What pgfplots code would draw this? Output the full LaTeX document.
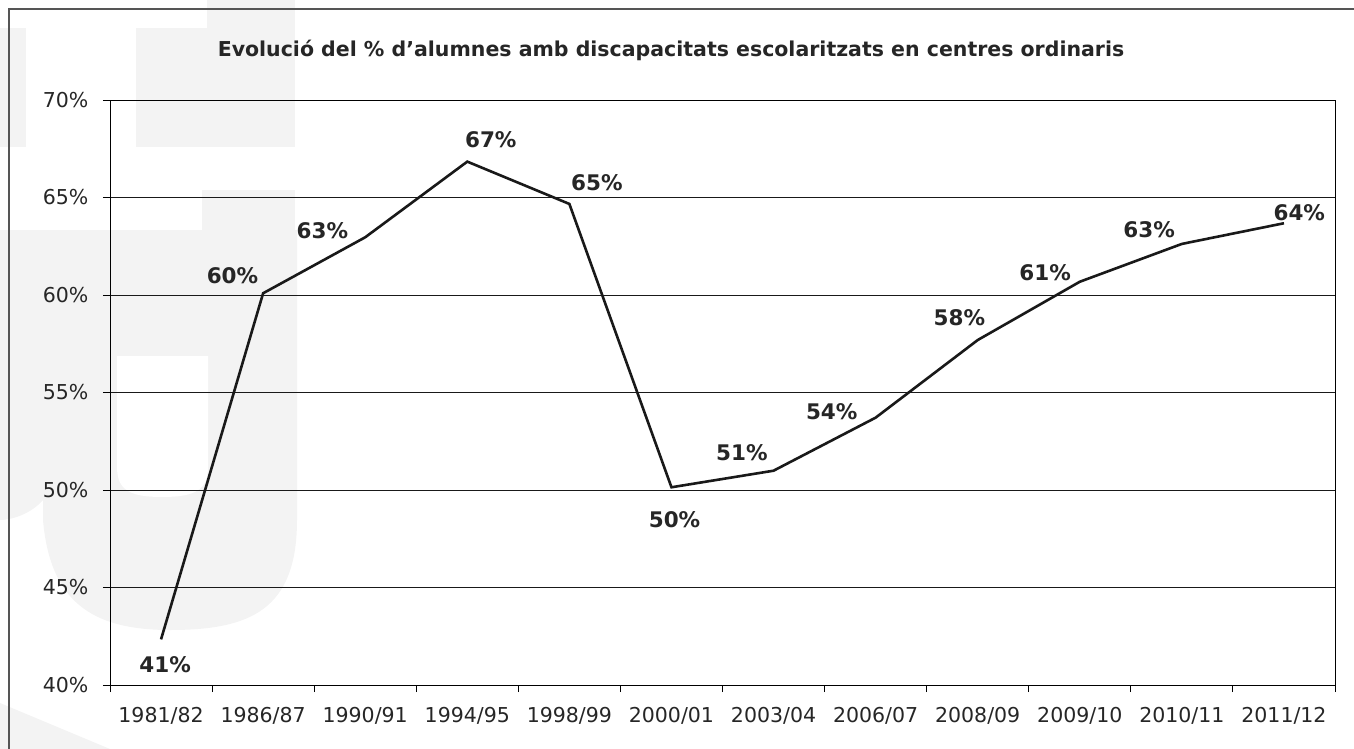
\documentclass[border=0pt]{standalone}
\usepackage{pgfplots}
\pgfplotsset{compat=1.18}
\usepackage{fontspec}
\setmainfont{DejaVu Sans}
\definecolor{wm}{HTML}{F3F3F3}
\definecolor{frm}{HTML}{555555}
\begin{document}
\begin{tikzpicture}
\path[use as bounding box] (0pt,0pt) rectangle (1354pt,-749pt);
\begin{scope}[x=1pt,y=-1pt]
  % faint watermark
  \fill[wm] (0,28) rectangle (26,147);
  \fill[wm] (136,28) rectangle (295,147);
  \fill[wm] (207,0) rectangle (295,28);
  \fill[wm] (202,190) rectangle (295,231);
  \fill[wm] (0,230) -- (297,230) -- (297,520) .. controls (297,610) and (250,630) .. (170,630)
        .. controls (90,630) and (50,600) .. (43,520) -- (43,500) .. controls (30,515) and (10,520) .. (0,520) -- cycle;
  \fill[white] (117,356) -- (208,356) -- (208,467) .. controls (208,490) and (195,497) .. (162,497)
        .. controls (130,497) and (117,490) .. (117,467) -- cycle;
  \fill[wm] (0,703) -- (110,749) -- (0,749) -- cycle;
  % outer frame
  \draw[frm, line width=1.2pt] (9,749) -- (9,9) -- (1354,9);
  % title
  \node[font=\fontsize{20.5}{24}\selectfont\bfseries, text=black!85] at (671,50)
    {Evolució del \% d’alumnes amb discapacitats escolaritzats en centres ordinaris};
\end{scope}
\begin{axis}[
  at={(110pt,-685pt)}, anchor=south west,
  scale only axis, width=1225pt, height=585pt,
  xmin=-0.5, xmax=11.5, ymin=40, ymax=70,
  clip=false,
  axis line style={black, line width=1pt},
  x tick label as interval,
  xtick={-0.5,0.5,...,11.5},
  xticklabels={1981/82,1986/87,1990/91,1994/95,1998/99,2000/01,2003/04,2006/07,2008/09,2009/10,2010/11,2011/12},
  ytick={40,45,50,55,60,65,70},
  yticklabels={40\%,45\%,50\%,55\%,60\%,65\%,70\%},
  tick align=outside, xtick pos=bottom, ytick pos=left,
  major tick length=7pt,
  tick style={black, line width=1pt},
  ymajorgrids, grid style={black!90, line width=1pt},
  /pgf/number format/assume math mode=true,
  ticklabel style={font=\fontsize{20.5}{24}\selectfont, text=black!85},
  xticklabel style={yshift=-12pt},
  yticklabel style={xshift=-11pt},
]
\addplot[black!90, line width=2.6pt, mark=none] coordinates {
 (0,42.34) (1,60.09) (2,62.96) (3,66.84) (4,64.67) (5,50.14)
 (6,50.99) (7,53.71) (8,57.69) (9,60.68) (10,62.62) (11,63.68)};
\begin{scope}[every node/.style={font=\fontsize{21.5}{24}\selectfont\bfseries, text=black!85}]
\node at (axis cs:0.04,41.03) {41\%};
\node at (axis cs:0.70,60.97) {60\%};
\node at (axis cs:1.58,63.28) {63\%};
\node at (axis cs:3.23,67.95) {67\%};
\node at (axis cs:4.27,65.74) {65\%};
\node at (axis cs:5.03,48.46) {50\%};
\node at (axis cs:5.69,51.90) {51\%};
\node at (axis cs:6.57,54.00) {54\%};
\node at (axis cs:7.82,58.82) {58\%};
\node at (axis cs:8.66,61.13) {61\%};
\node at (axis cs:9.68,63.33) {63\%};
\node at (axis cs:11.15,64.20) {64\%};
\end{scope}
\end{axis}
\end{tikzpicture}
\end{document}
